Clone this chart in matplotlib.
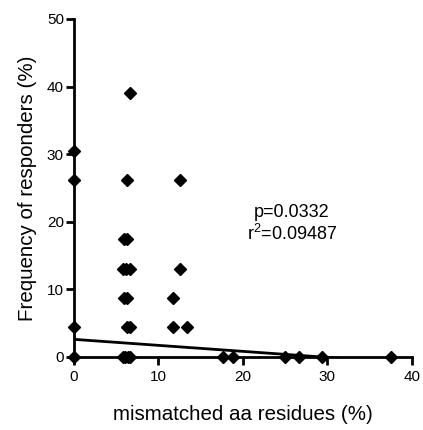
import numpy as np
import matplotlib.pyplot as plt

plt.rcParams["font.family"] = ["Liberation Sans", "DejaVu Sans"]
plt.rcParams["mathtext.fontset"] = "custom"
plt.rcParams["mathtext.rm"] = "Liberation Sans"
plt.rcParams["mathtext.default"] = "rm"

# mismatched residues (%) and responder frequency (%) per peptide
mismatch = [0, 0, 0, 0,
            6.7, 6.3, 12.6,
            5.9, 6.3,
            5.8, 6.2, 6.7, 12.6,
            5.9, 6.3, 11.8,
            6.3, 6.7, 11.8, 13.4,
            5.8, 6.1, 6.4, 6.7, 17.7, 18.8, 25.0, 26.7, 29.4, 37.5]
responders = [30.4, 26.1, 4.35, 0,
              39.1, 26.1, 26.1,
              17.4, 17.4,
              13.0, 13.0, 13.0, 13.0,
              8.7, 8.7, 8.7,
              4.35, 4.35, 4.35, 4.35,
              0, 0, 0, 0, 0, 0, 0, 0, 0, 0]

# linear regression (all peptides, incl. overlapping zero points)
fit_intercept = 2.6
fit_slope = -0.089

x_ticks = [0, 10, 20, 30, 40]
y_ticks = [0, 10, 20, 30, 40, 50]

fig = plt.figure(figsize=(4.23, 4.30), dpi=100)
ax = fig.add_axes([0.174, 0.170, 0.800, 0.786])

x = np.array(mismatch)
y = np.array(responders)

fit_x = np.array([0, x.max()])
ax.plot(fit_x, fit_slope * fit_x + fit_intercept, color="black", lw=2,
        clip_on=True, zorder=3)

ax.plot(x, y, "D", color="black", markersize=6.5, clip_on=False, zorder=5)

ax.set_xlim(0, 40)
ax.set_ylim(0, 50)
ax.set_xticks(x_ticks)
ax.set_yticks(y_ticks)

for side in ["top", "right"]:
    ax.spines[side].set_visible(False)
for side in ["left", "bottom"]:
    ax.spines[side].set_linewidth(2)

ax.tick_params(direction="out", length=5.5, width=2, labelsize=11)
ax.tick_params(axis="x", pad=4)
ax.tick_params(axis="y", pad=1.5)

ax.set_xlabel("mismatched aa residues (%)", fontsize=14.8, labelpad=15)
ax.set_ylabel("Frequency of responders (%)", fontsize=14.8, labelpad=7)

ax.text(25.8, 21.3, "p=0.0332", fontsize=13, ha="center", va="center")
ax.text(25.8, 18.2, "r$^2$=0.09487", fontsize=13, ha="center", va="center")

fig.savefig("out.png", dpi=100)
